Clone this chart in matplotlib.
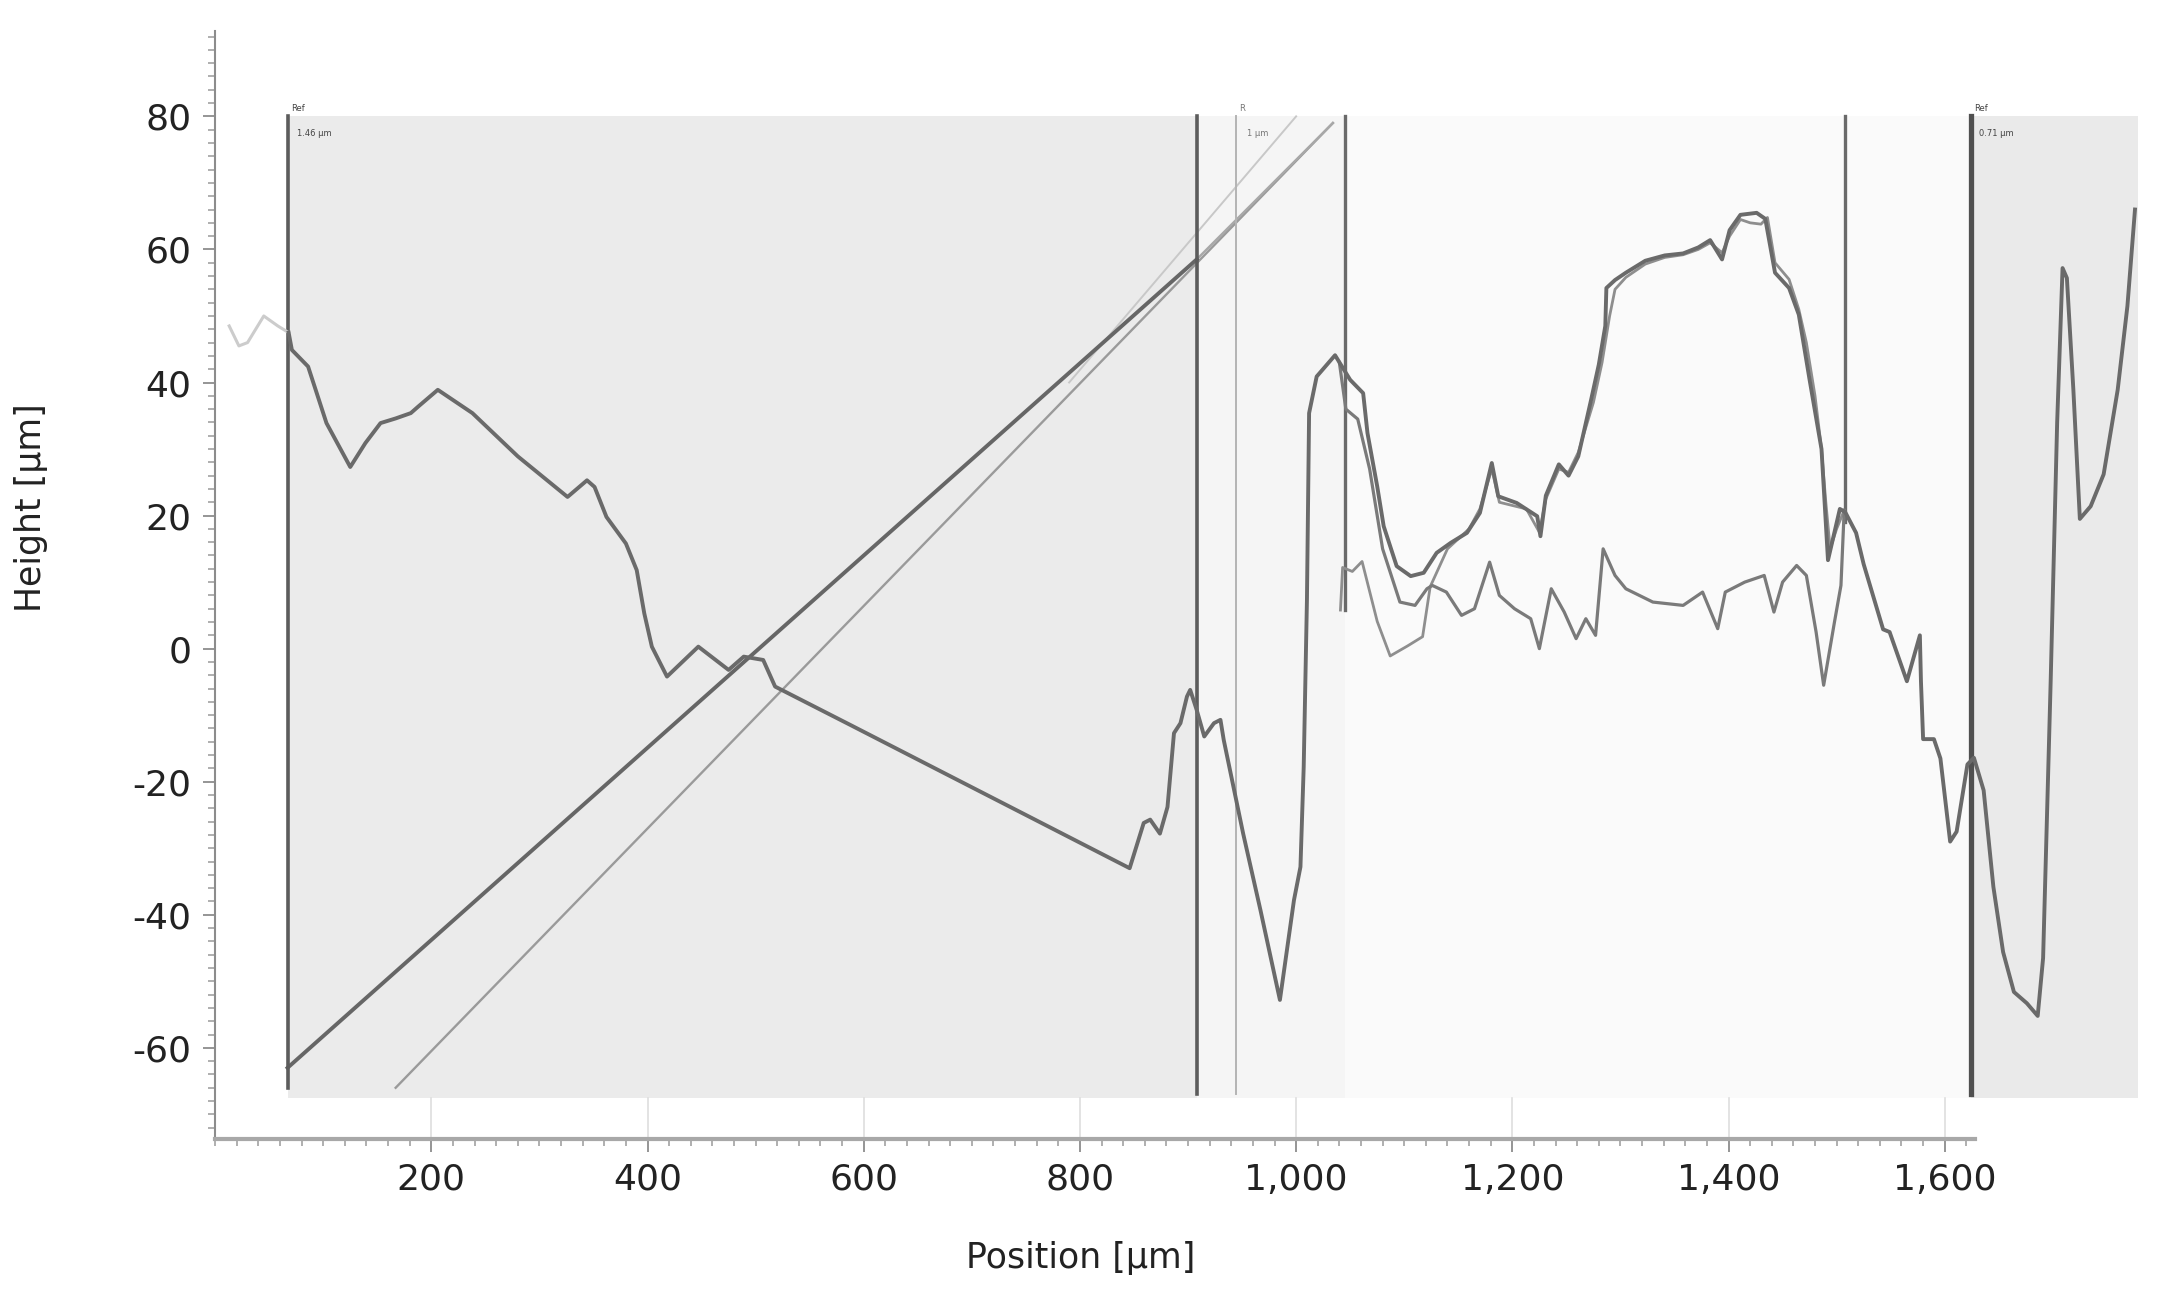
import matplotlib
matplotlib.use('Agg')
from matplotlib import pyplot as plt
from matplotlib.ticker import FixedLocator, FuncFormatter
import numpy as np

# main profile (dark)
pos_main = [68, 71, 86, 103, 125, 139, 153, 167, 181, 188, 206, 238, 280, 326, 344, 351, 362, 380, 390, 397,
            404, 418, 447, 475, 489, 507, 518, 588, 846, 859, 865, 874, 881, 887, 893, 899, 902, 908, 915, 924,
            930, 933, 951, 967, 985, 998, 1004, 1007, 1010, 1012, 1019, 1036, 1050, 1062, 1066, 1075, 1081, 1093,
            1106, 1118, 1130, 1143, 1158, 1170, 1181, 1187, 1204, 1223, 1226, 1231, 1243, 1252, 1261, 1273, 1280,
            1286, 1287, 1295, 1305, 1323, 1341, 1358, 1372, 1383, 1394, 1401, 1411, 1426, 1434, 1443, 1456, 1465,
            1475, 1486, 1492, 1503, 1508, 1518, 1525, 1543, 1549, 1565, 1577, 1578, 1580, 1590, 1596, 1605, 1611,
            1621, 1627, 1636, 1645, 1654, 1664, 1676, 1686, 1691, 1698, 1704, 1709, 1713, 1719, 1725, 1735, 1747,
            1760, 1769, 1776]
h_main = [47.5, 44.9, 42.4, 33.9, 27.3, 30.9, 33.9, 34.6, 35.4, 36.4, 38.9, 35.4, 28.9, 22.8, 25.3, 24.3, 19.8,
          15.8, 11.8, 5.3, 0.3, -4.2, 0.3, -3.2, -1.2, -1.7, -5.7, -11.5, -33.0, -26.2, -25.7, -27.8, -23.8, -12.7,
          -11.2, -7.2, -6.2, -9.2, -13.2, -11.2, -10.7, -13.7, -27.8, -39.3, -52.8, -37.8, -32.8, -17.8, 7.3, 35.4,
          40.9, 44.1, 40.4, 38.4, 32.4, 24.4, 18.4, 12.4, 10.9, 11.4, 14.4, 15.9, 17.4, 20.4, 27.9, 22.9, 21.9,
          19.9, 16.9, 23.0, 27.7, 26.0, 28.9, 37.5, 42.7, 48.5, 54.2, 55.4, 56.5, 58.3, 59.1, 59.4, 60.3, 61.4,
          58.5, 62.9, 65.2, 65.5, 64.6, 56.5, 54.2, 50.2, 40.4, 30.0, 13.3, 21.0, 20.5, 17.4, 12.7, 2.9, 2.5,
          -4.9, 2.0, -4.9, -13.6, -13.6, -16.5, -29.0, -27.5, -17.4, -16.4, -21.3, -35.8, -45.6, -51.6, -53.3,
          -55.2, -46.5, -4.9, 34.0, 57.2, 55.7, 38.9, 19.5, 21.4, 26.2, 38.9, 51.5, 66.0]

# faint piece left of the first reference line
pos_faint = [13, 22, 30, 45, 58, 68]
h_faint = [48.5, 45.5, 46.0, 50.0, 48.5, 47.5]

# second profile (lower flat trace)
pos_low = [1040, 1046, 1057, 1068, 1080, 1096, 1110, 1121, 1126, 1139, 1153, 1165, 1179, 1188, 1202, 1217,
           1225, 1236, 1248, 1259, 1268, 1277, 1284, 1295, 1305, 1330, 1358, 1376, 1390, 1397, 1415, 1433,
           1442, 1450, 1463, 1472, 1481, 1488, 1498, 1504, 1507]
h_low = [43.0, 36.0, 34.5, 27.0, 15.0, 7.0, 6.5, 9.0, 9.5, 8.5, 5.0, 6.0, 13.0, 8.0, 6.0, 4.5, 0.0, 9.0, 5.5,
         1.5, 4.5, 2.0, 15.0, 11.0, 9.0, 7.0, 6.5, 8.5, 3.0, 8.5, 10.0, 11.0, 5.5, 10.0, 12.5, 11.0, 2.5, -5.5,
         4.0, 9.5, 20.8]

# third profile (starts at the reference line, then follows the hump)
pos_third = [1041, 1043, 1052, 1061, 1075, 1087, 1103, 1117, 1124, 1140, 1160, 1170, 1181, 1188, 1213, 1225,
             1231, 1243, 1252, 1261, 1275, 1283, 1290, 1295, 1305, 1323, 1341, 1358, 1372, 1383, 1394, 1401,
             1411, 1420, 1430, 1436, 1443, 1456, 1465, 1472, 1480, 1486, 1490, 1494, 1500, 1507]
h_third = [5.8, 12.2, 11.6, 13.1, 4.1, -1.1, 0.4, 1.8, 9.3, 15.0, 18.0, 21.0, 27.0, 22.0, 21.0, 17.5, 22.5,
           27.0, 26.5, 29.5, 37.0, 43.0, 50.0, 54.0, 55.8, 57.8, 58.8, 59.2, 60.0, 61.0, 59.5, 62.0, 64.5, 64.0,
           63.8, 64.8, 58.0, 55.5, 51.0, 46.0, 38.0, 30.0, 22.0, 15.0, 18.0, 20.8]

# reference (cursor) lines: position, bottom, top, colour, width
ref_pos = [67, 908, 944, 1045, 1508, 1624]
ref_bottom = [-66, -67, -67, 5.8, 19, -67]
ref_top = [80, 80, 80, 80, 80, 80]
ref_color = ['#5c5c5c', '#5c5c5c', '#b4b4b4', '#6a6a6a', '#6a6a6a', '#505050']
ref_width = [2.6, 2.6, 1.4, 2.4, 2.4, 3.8]

# fitted straight lines (start, end)
fit_dark = ([67, 908], [-63, 58.5])
fit_dark_ext = ([908, 1034], [58.5, 79])
fit_light = ([167, 1034], [-66, 79])
fit_faint = ([790, 1000], [40, 80])

# shaded bands
band_start = [67, 908, 1045, 1624]
band_end = [908, 1045, 1624, 1779]
band_color = ['#ebebeb', '#f5f5f5', '#fafafa', '#eaeaea']

plt.rcParams['font.family'] = ['DejaVu Sans']
plt.rcParams['axes.unicode_minus'] = False
fig = plt.figure(figsize=(21.73, 13.05), dpi=100)
ax = fig.add_axes([0.099, 0.1272, 0.885, 0.8494])
ax.set_xlim(0, 1779)
ax.set_ylim(-73.7, 92.9)

for s, e, c in zip(band_start, band_end, band_color):
    ax.fill_between([s, e], -67.5, 80, color=c, lw=0, zorder=0)

for xt in range(200, 1700, 200):
    ax.plot([xt, xt], [-73.7, -67.5], color='#dedede', lw=1.2, zorder=0)

ax.plot(*fit_light, color='#9a9a9a', lw=1.7, zorder=2)
ax.plot(*fit_faint, color='#c8c8c8', lw=1.4, zorder=2)
ax.plot(*fit_dark_ext, color='#a8a8a8', lw=1.7, zorder=2)
ax.plot(*fit_dark, color='#666666', lw=2.8, zorder=2)

for xp, b, t, c, w in zip(ref_pos, ref_bottom, ref_top, ref_color, ref_width):
    ax.plot([xp, xp], [b, t], color=c, lw=w, zorder=3)

ax.plot(pos_faint, h_faint, color='#cccccc', lw=2.2, zorder=3)
ax.plot(pos_third, h_third, color='#8e8e8e', lw=2.0, zorder=3)
ax.plot(pos_low, h_low, color='#7a7a7a', lw=2.3, zorder=3)
ax.plot(pos_main, h_main, color='#6a6a6a', lw=2.8, zorder=4)

# tiny cursor tags
ax.text(70, 80.5, 'Ref', fontsize=6, color='#444444', va='bottom')
ax.text(76, 77.5, '1.46 µm', fontsize=6, color='#444444', va='center')
ax.text(1627, 80.5, 'Ref', fontsize=6, color='#444444', va='bottom')
ax.text(1632, 77.5, '0.71 µm', fontsize=6, color='#444444', va='center')
ax.text(947, 80.5, 'R', fontsize=6, color='#777777', va='bottom')
ax.text(955, 77.5, '1 µm', fontsize=6, color='#777777', va='center')

for side in ['top', 'right']:
    ax.spines[side].set_visible(False)
ax.spines['left'].set_color('#8c8c8c')
ax.spines['left'].set_linewidth(1.5)
ax.spines['bottom'].set_color('#a8a8a8')
ax.spines['bottom'].set_linewidth(3)
ax.spines['bottom'].set_bounds(0, 1628)

ax.set_xticks(range(200, 1700, 200))
ax.xaxis.set_minor_locator(FixedLocator(range(0, 1640, 20)))
ax.set_yticks(range(-60, 81, 20))
ax.yaxis.set_minor_locator(FixedLocator(range(-72, 93, 2)))
ax.xaxis.set_major_formatter(FuncFormatter(lambda v, _: '{:,.0f}'.format(v)))
ax.tick_params(axis='both', which='major', length=9, width=1.3, color='#8c8c8c',
               labelsize=26, labelcolor='#222222', pad=8)
ax.tick_params(axis='both', which='minor', length=5, width=1.1, color='#9a9a9a')

ax.set_xlabel('Position [µm]', fontsize=25, color='#222222')
ax.set_ylabel('Height [µm]', fontsize=25, color='#222222')
ax.xaxis.set_label_coords(0.45, -0.092)
ax.yaxis.set_label_coords(-0.087, 0.57)

fig.savefig('out.png', dpi=100, facecolor='white')
